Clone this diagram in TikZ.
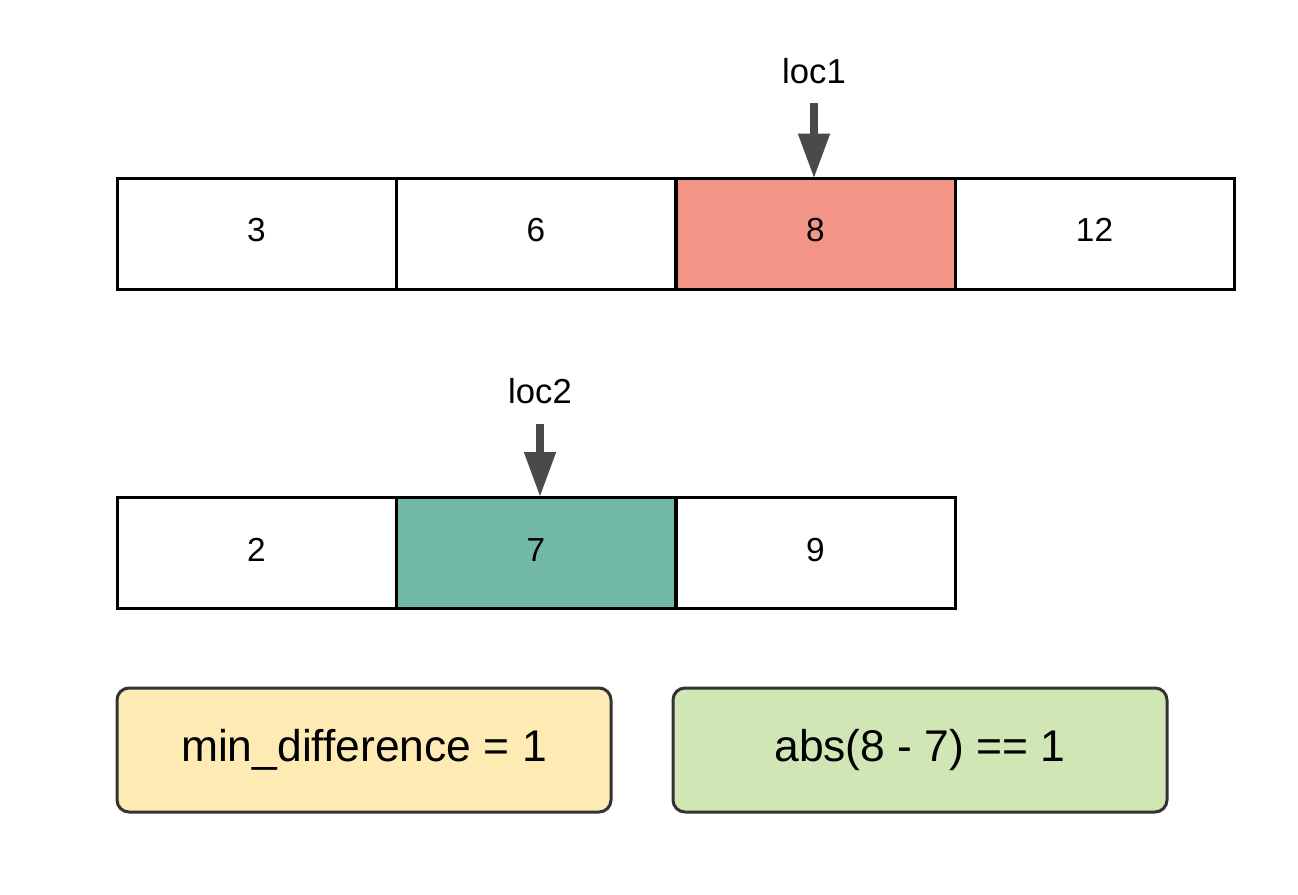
\documentclass[tikz,border=0pt]{standalone}
\usepackage{fontspec}
\setmainfont{Liberation Sans}
\usetikzlibrary{arrows.meta,calc}
\definecolor{cellred}{HTML}{F29486}
\definecolor{cellteal}{HTML}{72B8A6}
\definecolor{noteyellow}{HTML}{FDEBB3}
\definecolor{notegreen}{HTML}{D0E6B5}
\definecolor{arrowgrey}{HTML}{4A4A4A}
\definecolor{noteborder}{HTML}{333333}
\begin{document}
\begin{tikzpicture}[x=0.75pt,y=-0.75pt,
  cell/.style={draw=black,line width=2.25pt,minimum width=209.25pt,minimum height=83.25pt,inner sep=0pt,text height=18pt,text depth=6pt,font=\fontsize{25}{30}\selectfont},
  lbl/.style={inner sep=0pt,font=\fontsize{26}{30}\selectfont},
  note/.style={draw=noteborder,line width=2.25pt,rounded corners=9pt,minimum width=370.5pt,minimum height=93pt,inner sep=0pt,font=\fontsize{33.3}{38}\selectfont},
  ptr/.style={draw=arrowgrey,line width=6pt,-{Triangle[length=33.75pt,width=22.5pt]}}]
\useasboundingbox (0,0) rectangle (1298,894);
% top array
\node[cell] (a1) at (256.5,233.5) {3};
\node[cell] (a2) at (536,233.5) {6};
\node[cell,fill=cellred] (a3) at (815.5,233.5) {8};
\node[cell] (a4) at (1094.5,233.5) {12};
% bottom array
\node[cell] (b1) at (256.5,553) {2};
\node[cell,fill=cellteal] (b2) at (536,553) {7};
\node[cell] (b3) at (815.5,553) {9};
% pointers
\node[lbl] (l1) at (814,71) {loc1};
\node[lbl] (l2) at (540,391) {loc2};
\draw[ptr] ($(l1.center)+(0,32)$) -- ($(l1.center |- a3.north)+(0,2)$);
\draw[ptr] ($(l2.center)+(0,33)$) -- ($(l2.center |- b2.north)+(0,1)$);
% notes
\node[note,fill=noteyellow] (n1) at (364,750) {min\_difference = 1};
\node[note,fill=notegreen] (n2) at (920,750) {abs(8 - 7) == 1};
\end{tikzpicture}
\end{document}
